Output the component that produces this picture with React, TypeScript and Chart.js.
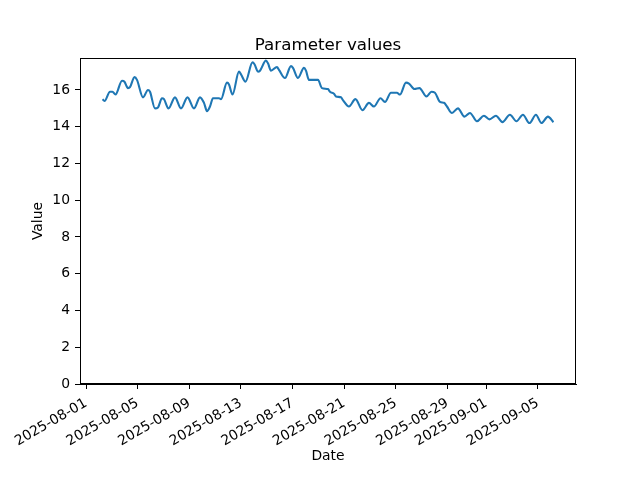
import React, { useEffect, useRef } from "react";
import { Chart, registerables } from "chart.js";

Chart.register(...registerables);

// Time in days since 2025-08-01 00:00
const dayOffsets = [
  1.278, 1.433, 1.859, 2.053, 2.285, 2.789, 2.982, 3.253, 3.408, 3.757, 3.95, 4.415, 4.803, 4.957,
  5.345, 5.577, 5.887, 6.042, 6.39, 6.894, 7.359, 7.862, 8.366, 8.83, 9.14, 9.373, 9.605, 9.837,
  10.302, 10.457, 10.922, 11.077, 11.348, 11.851, 12.006, 12.355, 12.897, 13.052, 13.323, 13.478,
  13.943, 14.098, 14.33, 14.795, 14.95, 15.414, 15.879, 16.034, 16.421, 16.886, 17.041, 17.273,
  17.971, 18.28, 18.745, 18.9, 19.21, 19.365, 19.752, 19.907, 20.372, 20.875, 21.418, 21.921,
  22.308, 22.812, 23.161, 23.625, 24.09, 24.322, 24.787, 25.019, 25.445, 25.833, 26.375, 26.762,
  27.033, 27.421, 27.731, 27.963, 28.35, 28.815, 29.318, 29.745, 30.287, 30.829, 31.255, 31.758,
  32.262, 32.843, 33.346, 33.85, 34.353, 34.857, 35.283, 35.786, 36.212,
];

const values = [
  15.5, 15.4, 15.9, 15.9, 15.75, 16.5, 16.45, 16.1, 16.15, 16.7, 16.55, 15.6, 16.0, 15.9,
  15.0, 15.05, 15.55, 15.5, 15.0, 15.6, 15.0, 15.6, 15.0, 15.6, 15.3, 14.85, 15.1, 15.55,
  15.55, 15.5, 16.4, 16.3, 15.75, 17.0, 16.85, 16.45, 17.5, 17.4, 17.0, 17.05,
  17.6, 17.45, 17.05, 17.25, 17.1, 16.65, 17.3, 17.2, 16.65, 17.2, 17.05, 16.55,
  16.55, 16.1, 16.05, 15.9, 15.8, 15.65, 15.6, 15.45, 15.1, 15.5, 14.9, 15.3,
  15.1, 15.55, 15.35, 15.85, 15.85, 15.75, 16.4, 16.35, 16.05, 16.1, 15.65, 15.9,
  15.85, 15.35, 15.3, 15.1, 14.75, 15.0, 14.55, 14.75, 14.3, 14.6, 14.4, 14.6,
  14.25, 14.65, 14.3, 14.65, 14.2, 14.65, 14.2, 14.55, 14.25,
];

const tickDays = [0, 4, 8, 12, 16, 20, 24, 28, 31, 35];
const tickLabels = [
  "2025-08-01", "2025-08-05", "2025-08-09", "2025-08-13", "2025-08-17",
  "2025-08-21", "2025-08-25", "2025-08-29", "2025-09-01", "2025-09-05",
];
const yTicks = [0, 2, 4, 6, 8, 10, 12, 14, 16];
const chartTitle = "Parameter values";

const FONT = "'DejaVu Sans', sans-serif";

const frame = {
  id: "frame",
  afterDraw(chart: any) {
    const { ctx, chartArea } = chart;
    const l = Math.round(chartArea.left) + 0.5;
    const t = Math.round(chartArea.top) + 0.5;
    const r = Math.round(chartArea.right) - 0.5;
    const b = Math.round(chartArea.bottom) - 0.5;
    ctx.save();
    ctx.strokeStyle = "#000";
    ctx.lineWidth = 1;
    ctx.strokeRect(l, t, r - l, b - t);
    ctx.fillStyle = "#000";
    ctx.font = `16.7px ${FONT}`;
    ctx.textAlign = "center";
    ctx.textBaseline = "alphabetic";
    ctx.fillText(chartTitle, (chartArea.left + chartArea.right) / 2, chartArea.top - 8);
    ctx.restore();
  },
};

export default function App() {
  const ref = useRef<HTMLCanvasElement>(null);
  useEffect(() => {
    const chart = new Chart(ref.current as HTMLCanvasElement, {
      type: "line",
      data: {
        datasets: [
          {
            data: dayOffsets.map((d, i) => ({ x: d, y: values[i] })),
            borderColor: "#1f77b4",
            borderWidth: 2.1,
            pointRadius: 0,
            fill: false,
            tension: 0.4,
            cubicInterpolationMode: "monotone",
          },
        ],
      },
      options: {
        animation: false,
        responsive: false,
        layout: { padding: { left: 0, right: 64, top: 58, bottom: 0 } },
        plugins: {
          legend: { display: false },
          tooltip: { enabled: false },
          title: { display: false },
        },
        scales: {
          x: {
            type: "linear",
            min: -0.465,
            max: 37.96,
            afterBuildTicks: (scale: any) => {
              scale.ticks = tickDays.map((v) => ({ value: v }));
            },
            afterFit: (scale: any) => {
              scale.height = 96;
              scale.paddingLeft = 0;
              scale.paddingRight = 0;
            },
            grid: {
              drawOnChartArea: false,
              drawTicks: true,
              tickLength: 5,
              tickWidth: 1,
              tickColor: "#000",
            },
            border: { display: true, color: "#000", width: 1 },
            ticks: {
              autoSkip: false,
              minRotation: 30,
              maxRotation: 30,
              padding: 6,
              color: "#000",
              font: { family: FONT, size: 13.9 },
              callback: (value: any) => {
                const i = tickDays.indexOf(Number(value));
                return i >= 0 ? tickLabels[i] : "";
              },
            },
            title: {
              display: true,
              text: "Date",
              color: "#000",
              font: { family: FONT, size: 13.9 },
              padding: { top: 0, bottom: 15 },
            },
          },
          y: {
            type: "linear",
            min: 0,
            max: 17.74,
            afterBuildTicks: (scale: any) => {
              scale.ticks = yTicks.map((v) => ({ value: v }));
            },
            afterFit: (scale: any) => {
              scale.width = 80;
              scale.paddingTop = 0;
              scale.paddingBottom = 0;
            },
            grid: {
              drawOnChartArea: false,
              drawTicks: true,
              tickLength: 5,
              tickWidth: 1,
              tickColor: "#000",
            },
            border: { display: true, color: "#000", width: 1 },
            ticks: {
              padding: 5,
              color: "#000",
              font: { family: FONT, size: 13.9 },
              callback: (value: any) => String(value),
            },
            title: {
              display: true,
              text: "Value",
              color: "#000",
              font: { family: FONT, size: 13.9 },
              padding: { top: 30, bottom: 0 },
            },
          },
        },
      },
      plugins: [frame],
    } as any);
    return () => chart.destroy();
  }, []);
  return (
    <div style={{ position: "fixed", left: 0, top: 0, width: 640, height: 480, background: "#fff" }}>
      <canvas ref={ref} width={640} height={480} style={{ width: 640, height: 480 }} />
    </div>
  );
}
